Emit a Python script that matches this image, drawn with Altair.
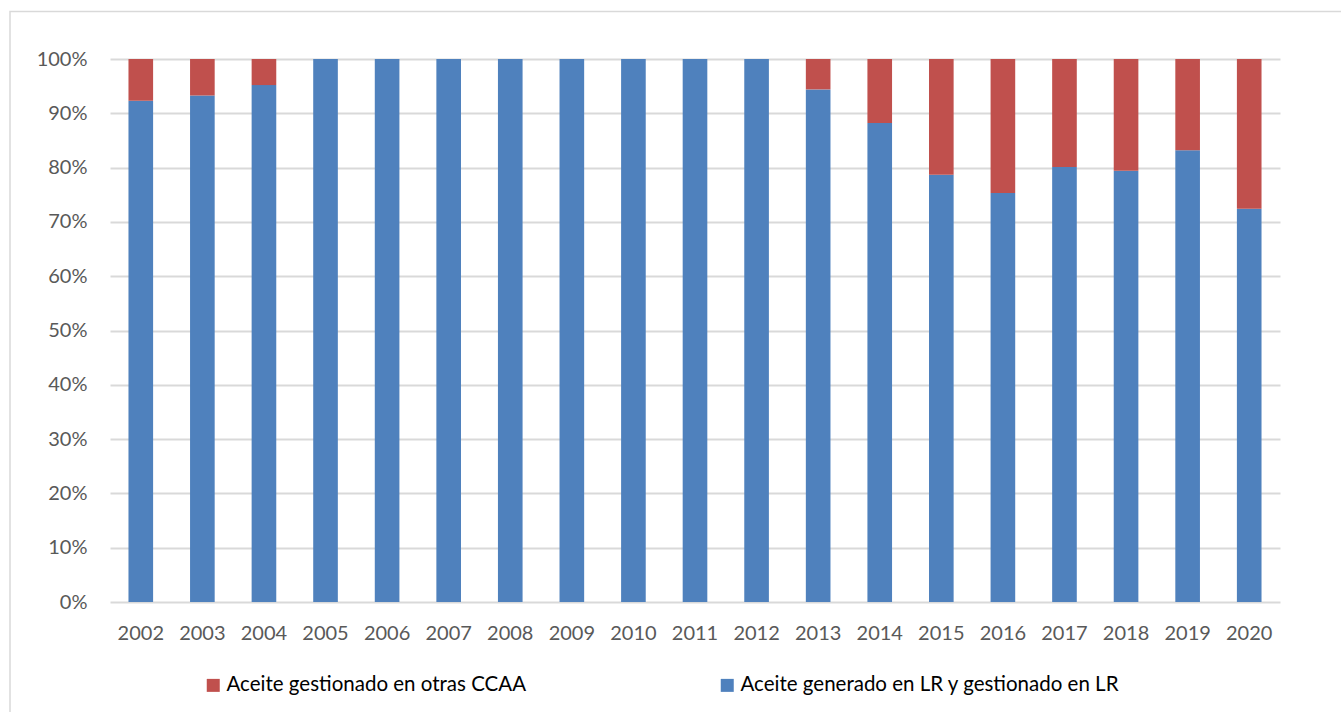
import altair as alt
import pandas as pd

years = [str(y) for y in range(2002, 2021)]
# Share of used oil (%) generated in La Rioja and managed in La Rioja
local_pct = [92.3, 93.3, 95.2, 100, 100, 100, 100, 100, 100, 100, 100,
             94.4, 88.2, 78.7, 75.3, 80.1, 79.4, 83.2, 72.4]
# Share of used oil (%) managed in other autonomous communities
other_pct = [7.7, 6.7, 4.8, 0, 0, 0, 0, 0, 0, 0, 0,
             5.6, 11.8, 21.3, 24.7, 19.9, 20.6, 16.8, 27.6]

local_name = "Aceite generado en LR y gestionado en LR"
other_name = "Aceite gestionado en otras CCAA"
series_names = [other_name, local_name]
series_colors = ["#C0504D", "#4F81BD"]

rows = []
for y, a, b in zip(years, local_pct, other_pct):
    rows.append({"year": y, "serie": local_name, "pct": a, "orden": 0})
    rows.append({"year": y, "serie": other_name, "pct": b, "orden": 1})
df = pd.DataFrame(rows)

FONT = "Lato"
GRID = "#d9d9d9"

bars = alt.Chart(df).mark_bar().encode(
    x=alt.X("year:N", title=None, sort=years,
            scale=alt.Scale(paddingInner=0.6, paddingOuter=0.3),
            axis=alt.Axis(labelAngle=0, ticks=False, domain=False,
                          labelFont=FONT, labelFontSize=20,
                          labelColor="#595959", labelPadding=21)),
    y=alt.Y("pct:Q", title=None, stack="zero",
            scale=alt.Scale(domain=[0, 100], nice=False),
            axis=alt.Axis(values=list(range(0, 101, 10)),
                          labelExpr="datum.value + '%'",
                          ticks=False, domain=False, grid=True,
                          gridColor=GRID, gridWidth=1.8,
                          labelFont=FONT, labelFontSize=20,
                          labelColor="#595959", labelPadding=23)),
    color=alt.Color("serie:N", sort=series_names,
                    scale=alt.Scale(domain=series_names, range=series_colors),
                    legend=alt.Legend(title=None, orient="none",
                                      direction="horizontal",
                                      legendX=93, legendY=616,
                                      symbolType="square", symbolSize=169,
                                      symbolStrokeWidth=0,
                                      labelFont=FONT, labelFontSize=20.5,
                                      labelColor="#000000", labelOffset=3,
                                      columnPadding=190, labelLimit=600)),
    order=alt.Order("orden:Q"),
)

# Outer chart frame
frame = alt.Chart(pd.DataFrame({"k": [0]})).mark_rect(
    fill=None, stroke=GRID, strokeWidth=1.5
).encode(
    x=alt.value(-100), x2=alt.value(1400),
    y=alt.value(-47.5), y2=alt.value(800),
)

chart = alt.layer(frame, bars).properties(
    width=1170, height=543,
    padding={"left": 110, "top": 59, "right": 61, "bottom": 110},
    autosize=alt.AutoSizeParams(type="none"),
    background="white",
).configure_view(stroke=None)

chart.save("out.html", embed_options={"renderer": "svg", "actions": False})
